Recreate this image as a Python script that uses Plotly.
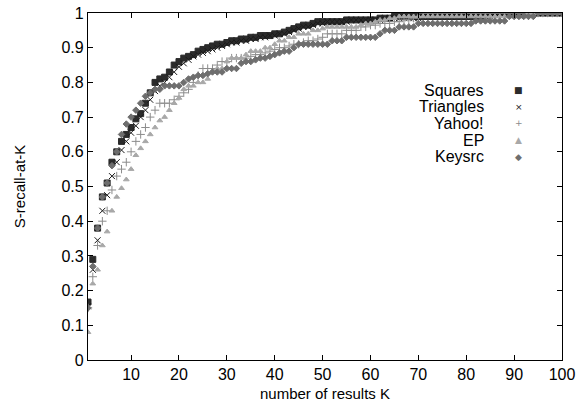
import plotly.graph_objects as go

# number of results K
k_values = list(range(1, 101))

squares = [
    0.167, 0.29, 0.38, 0.47, 0.51, 0.57, 0.60, 0.63, 0.65, 0.67,
    0.695, 0.71, 0.74, 0.77, 0.80, 0.81, 0.815, 0.83, 0.85, 0.86,
    0.87, 0.875, 0.88, 0.89, 0.895, 0.90, 0.905, 0.91, 0.91, 0.915,
    0.92, 0.92, 0.925, 0.925, 0.93, 0.93, 0.935, 0.935, 0.935, 0.94,
    0.94, 0.945, 0.95, 0.955, 0.96, 0.965, 0.965, 0.97, 0.975, 0.975,
    0.975, 0.975, 0.975, 0.975, 0.98, 0.98, 0.98, 0.98, 0.98, 0.98,
    0.98, 0.985, 0.985, 0.985, 0.99, 0.99, 0.99, 0.99, 0.99, 0.99,
    0.99, 0.99, 0.99, 0.99, 0.99, 0.99, 0.99, 0.99, 0.99, 0.99,
    0.99, 0.99, 0.99, 1.0, 1.0, 1.0, 1.0, 1.0, 1.0, 1.0,
    1.0, 1.0, 1.0, 1.0, 1.0, 1.0, 1.0, 1.0, 1.0, 1.0,
]

triangles = [
    0.155, 0.26, 0.345, 0.43, 0.475, 0.53, 0.57, 0.605, 0.63, 0.655,
    0.675, 0.70, 0.72, 0.75, 0.775, 0.79, 0.80, 0.815, 0.83, 0.845,
    0.855, 0.865, 0.875, 0.88, 0.885, 0.89, 0.895, 0.90, 0.905, 0.91,
    0.915, 0.915, 0.92, 0.92, 0.925, 0.925, 0.93, 0.93, 0.935, 0.935,
    0.94, 0.94, 0.945, 0.95, 0.955, 0.96, 0.96, 0.965, 0.97, 0.97,
    0.975, 0.975, 0.975, 0.975, 0.975, 0.98, 0.98, 0.98, 0.98, 0.98,
    0.98, 0.98, 0.985, 0.985, 0.985, 0.985, 0.985, 0.985, 0.985, 0.985,
    0.99, 0.99, 0.99, 0.99, 0.99, 0.99, 0.99, 0.99, 0.99, 0.99,
    0.99, 0.99, 0.99, 0.99, 0.99, 1.0, 1.0, 1.0, 1.0, 1.0,
    1.0, 1.0, 1.0, 1.0, 1.0, 1.0, 1.0, 1.0, 1.0, 1.0,
]

yahoo = [
    0.15, 0.24, 0.33, 0.40, 0.43, 0.49, 0.53, 0.55, 0.57, 0.60,
    0.63, 0.65, 0.67, 0.70, 0.72, 0.74, 0.74, 0.74, 0.75, 0.76,
    0.77, 0.78, 0.80, 0.82, 0.84, 0.84, 0.84, 0.85, 0.86, 0.86,
    0.87, 0.87, 0.87, 0.87, 0.875, 0.88, 0.88, 0.885, 0.89, 0.895,
    0.90, 0.90, 0.905, 0.91, 0.91, 0.915, 0.92, 0.92, 0.925, 0.93,
    0.94, 0.94, 0.94, 0.94, 0.95, 0.95, 0.95, 0.96, 0.96, 0.965,
    0.965, 0.97, 0.97, 0.97, 0.975, 0.975, 0.98, 0.98, 0.985, 0.99,
    1.0, 1.0, 1.0, 1.0, 1.0, 1.0, 1.0, 1.0, 1.0, 1.0,
    1.0, 1.0, 1.0, 1.0, 1.0, 1.0, 1.0, 1.0, 1.0, 1.0,
    1.0, 1.0, 1.0, 1.0, 1.0, 1.0, 1.0, 1.0, 1.0, 1.0,
]

ep = [
    0.08, 0.22, 0.26, 0.33, 0.37, 0.43, 0.47, 0.495, 0.52, 0.55,
    0.59, 0.61, 0.63, 0.65, 0.67, 0.69, 0.70, 0.72, 0.74, 0.755,
    0.78, 0.79, 0.79, 0.80, 0.80, 0.81, 0.83, 0.84, 0.84, 0.86,
    0.87, 0.87, 0.87, 0.88, 0.89, 0.89, 0.89, 0.90, 0.90, 0.91,
    0.92, 0.92, 0.93, 0.93, 0.94, 0.94, 0.94, 0.95, 0.95, 0.955,
    0.96, 0.96, 0.96, 0.96, 0.96, 0.96, 0.96, 0.965, 0.97, 0.97,
    0.975, 0.98, 0.98, 0.985, 0.985, 0.99, 0.99, 0.99, 0.99, 0.99,
    0.99, 0.99, 0.99, 0.99, 0.99, 0.99, 0.99, 0.99, 0.99, 0.99,
    0.99, 0.99, 0.99, 0.99, 0.99, 0.99, 0.99, 0.99, 0.99, 0.99,
    0.99, 0.99, 1.0, 1.0, 1.0, 1.0, 1.0, 1.0, 1.0, 1.0,
]

keysrc = [
    0.15, 0.27, 0.38, 0.47, 0.51, 0.56, 0.60, 0.65, 0.68, 0.70,
    0.72, 0.74, 0.76, 0.77, 0.78, 0.78, 0.79, 0.79, 0.79, 0.79,
    0.80, 0.81, 0.815, 0.82, 0.82, 0.825, 0.83, 0.83, 0.83, 0.84,
    0.84, 0.84, 0.855, 0.86, 0.86, 0.865, 0.87, 0.87, 0.875, 0.88,
    0.885, 0.89, 0.89, 0.90, 0.91, 0.91, 0.91, 0.91, 0.91, 0.91,
    0.91, 0.92, 0.92, 0.92, 0.93, 0.93, 0.93, 0.93, 0.93, 0.93,
    0.93, 0.94, 0.95, 0.95, 0.95, 0.96, 0.96, 0.96, 0.96, 0.97,
    0.97, 0.97, 0.97, 0.97, 0.97, 0.97, 0.97, 0.97, 0.97, 0.97,
    0.97, 0.977, 0.977, 0.977, 0.977, 0.977, 0.977, 0.977, 0.99, 0.99,
    0.99, 0.99, 0.99, 0.99, 1.0, 1.0, 1.0, 1.0, 1.0, 1.0,
]

series_names = ["Squares", "Triangles", "Yahoo!", "EP", "Keysrc"]
series_values = [squares, triangles, yahoo, ep, keysrc]
series_symbols = ["square", "x-thin-open", "cross-thin-open", "triangle-up", "diamond"]
series_sizes = [6, 6, 6, 5, 5]
series_colors = ["#2b2b2b", "#1a1a1a", "#8c8c8c", "#a8a8a8", "#6e6e6e"]
legend_glyphs = ["\u25a0", "\u00d7", "+", "\u25b2", "\u25c6"]

FONT = "Liberation Sans, Arial, sans-serif"

fig = go.Figure()

for name, vals, sym, size, color in zip(series_names, series_values, series_symbols,
                                        series_sizes, series_colors):
    fig.add_trace(go.Scatter(
        x=k_values, y=vals, mode="markers", name=name, showlegend=False,
        marker=dict(symbol=sym, size=size, color=color,
                    line=dict(color=color, width=1)),
    ))

# legend drawn like gnuplot's: right-aligned names, marker glyph on the right
for i, (name, glyph, color) in enumerate(zip(series_names, legend_glyphs, series_colors)):
    ypos = 0.778 - i * 0.048
    fig.add_annotation(xref="paper", yref="paper", x=0.84, y=ypos, text=name,
                       showarrow=False, xanchor="right", yanchor="middle",
                       font=dict(family=FONT, size=16, color="black"))
    fig.add_annotation(xref="paper", yref="paper", x=0.909, y=ypos, text=glyph,
                       showarrow=False, xanchor="center", yanchor="middle",
                       font=dict(family="DejaVu Sans", size=9, color=color))

axis_common = dict(
    showline=True, linecolor="black", linewidth=1.2, mirror="ticks",
    ticks="inside", ticklen=5, tickcolor="black", tickwidth=1,
    showgrid=False, zeroline=False, automargin=False,
    ticklabeloverflow="allow",
    tickfont=dict(family=FONT, size=16, color="black"),
)

fig.update_xaxes(
    range=[1, 100], tickvals=list(range(10, 101, 10)),
    title=dict(text="number of results K", font=dict(family=FONT, size=15, color="black"),
               standoff=6),
    **axis_common,
)
fig.update_yaxes(
    range=[0, 1], tickvals=[i / 10 for i in range(11)],
    ticktext=["0", "0.1", "0.2", "0.3", "0.4", "0.5", "0.6", "0.7", "0.8", "0.9", "1"],
    title=dict(text="S-recall-at-K", font=dict(family=FONT, size=15, color="black"),
               standoff=32),
    **axis_common,
)

fig.update_layout(
    width=586, height=412,
    margin=dict(l=88, r=24, t=13, b=52),
    plot_bgcolor="white", paper_bgcolor="white",
    font=dict(family=FONT, color="black"),
    hovermode=False,
)

# drop the browser's default body margin so the figure sits at the window corner
fig.write_html("out.html", config={"displayModeBar": False},
               post_script="document.body.style.margin = '0';")
